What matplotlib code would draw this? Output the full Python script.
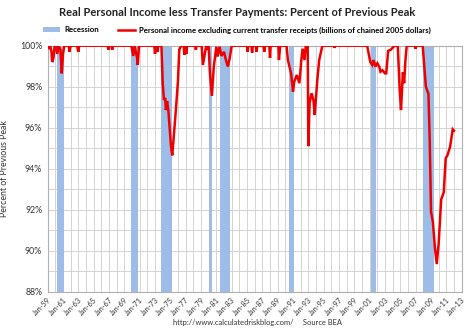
import matplotlib
matplotlib.use("Agg")
import matplotlib.pyplot as plt
import matplotlib.dates as mdates
import pandas as pd
from matplotlib.patches import Patch
from matplotlib.lines import Line2D
from matplotlib.ticker import MultipleLocator, FuncFormatter

plt.rcParams['font.family'] = ['Lato', 'DejaVu Sans']

# ── Series: real personal income less transfers, % of previous peak ──────────
months = [
    '1959-01', '1959-03', '1959-05', '1959-07', '1959-08', '1959-10', '1959-12',
    '1960-02', '1960-04', '1960-06', '1960-09', '1960-11', '1961-01', '1961-03',
    '1961-10', '1961-11', '1962-01', '1962-11', '1963-01', '1963-02',
    '1966-11', '1966-12', '1967-01', '1967-05', '1967-06', '1967-07',
    '1969-12', '1970-03', '1970-05', '1970-09', '1970-10', '1970-12',
    '1972-12', '1973-01', '1973-02', '1973-05', '1973-06', '1973-11',
    '1974-01', '1974-03', '1974-05', '1974-06', '1974-08', '1974-10',
    '1975-02', '1975-04', '1975-06', '1975-10', '1976-01', '1976-03',
    '1976-06', '1976-10', '1976-11', '1977-01', '1977-02', '1977-03',
    '1978-04', '1978-05', '1978-06', '1979-02', '1979-04', '1979-07',
    '1979-09', '1979-11', '1980-01', '1980-03', '1980-06', '1980-09',
    '1981-01', '1981-03', '1981-06', '1981-09', '1982-01', '1982-04',
    '1982-07', '1982-10', '1983-01',
    '1985-01', '1985-02', '1985-03', '1985-08', '1985-09', '1985-10',
    '1986-03', '1986-04', '1986-05', '1987-03', '1987-04', '1987-05',
    '1987-12', '1988-01', '1988-02', '1989-02', '1989-03', '1989-05',
    '1990-03', '1990-05', '1990-10', '1991-01', '1991-03', '1991-07',
    '1991-11', '1992-02', '1992-04', '1992-07', '1992-09', '1992-12',
    '1993-01', '1993-03', '1993-06', '1993-09', '1993-11', '1994-03',
    '1994-06', '1994-11',
    '1996-05', '1996-06', '1996-07',
    '2000-09', '2001-02', '2001-05', '2001-07', '2001-10', '2002-01',
    '2002-04', '2002-06', '2002-09', '2003-01', '2003-03', '2003-06',
    '2003-10', '2004-01', '2004-04', '2004-09', '2004-12', '2005-02',
    '2005-05', '2005-07', '2005-09', '2005-11',
    '2006-12', '2007-01', '2007-02', '2007-12', '2008-05', '2008-09',
    '2008-11', '2009-01', '2009-04', '2009-07', '2009-10', '2010-01',
    '2010-05', '2010-09', '2010-12', '2011-03', '2011-07', '2011-11',
    '2012-01',
]
pct_of_peak = [
    100.0, 99.9, 100.0, 99.7, 99.2, 99.4, 100.0,
    100.0, 99.6, 100.0, 99.8, 98.65, 99.6, 100.0,
    100.0, 99.7, 100.0, 100.0, 99.7, 100.0,
    100.0, 99.8, 100.0, 100.0, 99.8, 100.0,
    100.0, 99.5, 100.0, 99.4, 99.06, 100.0,
    100.0, 99.6, 100.0, 99.7, 100.0, 100.0,
    98.2, 97.35, 97.45, 96.86, 97.3, 96.8,
    95.1, 94.65, 95.4, 97.0, 98.3, 99.8,
    100.0, 100.0, 99.55, 100.0, 99.6, 100.0,
    100.0, 99.8, 100.0, 100.0, 99.06, 99.6,
    100.0, 99.8, 100.0, 98.65, 97.55, 98.98,
    99.95, 99.47, 99.95, 99.5, 99.7, 99.3,
    98.98, 99.4, 100.0,
    100.0, 99.7, 100.0, 100.0, 99.65, 100.0,
    100.0, 99.7, 100.0, 100.0, 99.7, 100.0,
    100.0, 99.4, 100.0, 100.0, 99.3, 100.0,
    100.0, 99.3, 98.65, 97.76, 98.25, 98.57,
    98.17, 99.3, 99.85, 99.3, 100.0, 100.0,
    95.1, 97.2, 97.68, 97.35, 96.62, 98.3,
    99.3, 100.0,
    100.0, 99.9, 100.0,
    100.0, 99.2, 99.06, 99.3, 98.98, 99.14,
    98.98, 98.73, 98.8, 98.65, 98.65, 99.75,
    99.8, 99.9, 100.0, 100.0, 97.84, 96.86,
    98.7, 98.17, 99.3, 100.0,
    100.0, 99.85, 100.0, 100.0, 98.0, 97.65,
    95.4, 91.9, 91.4, 90.2, 89.35, 90.36,
    92.5, 92.85, 94.5, 94.67, 95.08, 95.92,
    95.85,
]

# NBER recessions (start, end month)
rec_start = ['1960-04', '1969-12', '1973-11', '1980-01', '1981-07',
             '1990-07', '2001-03', '2007-12']
rec_end = ['1961-02', '1970-11', '1975-03', '1980-07', '1982-11',
           '1991-03', '2001-11', '2009-06']

# labelled ticks every other January, grid every January
tick_years = list(range(1959, 2014, 2))
grid_years = list(range(1959, 2014))

dates = pd.to_datetime(months)
RED = '#ee0000'
BLUE = '#9dbde8'

fig = plt.figure(figsize=(4.74, 3.33), dpi=100)
ax = fig.add_axes([0.1006, 0.124, 0.8734, 0.7388])

for s, e in zip(pd.to_datetime(rec_start), pd.to_datetime(rec_end)):
    ax.axvspan(s, e, color=BLUE, lw=0, zorder=1)

ax.plot(dates, pct_of_peak, color=RED, lw=1.8, zorder=3,
        solid_joinstyle='miter')

ax.set_xlim(pd.Timestamp('1959-01-01'), pd.Timestamp('2013-01-01'))
ax.set_ylim(88, 100)

ax.set_xticks([pd.Timestamp(f'{y}-01-01') for y in tick_years])
ax.set_xticks([pd.Timestamp(f'{y}-01-01') for y in grid_years], minor=True)
ax.xaxis.set_major_formatter(mdates.DateFormatter('%b-%y'))
ax.yaxis.set_major_locator(MultipleLocator(2))
ax.yaxis.set_minor_locator(MultipleLocator(1))
ax.yaxis.set_major_formatter(FuncFormatter(lambda v, p: f'{v:.0f}%'))

ax.grid(True, which='both', color='#d4d4d4', lw=0.7, zorder=0)
ax.set_axisbelow(True)
for sp in ax.spines.values():
    sp.set_color('#b0b0b0')
    sp.set_linewidth(0.8)

ax.tick_params(axis='x', which='both', length=0, labelsize=5.3, pad=3,
               colors='#333333')
ax.tick_params(axis='y', which='both', length=0, labelsize=6.3, pad=4,
               colors='#333333')
plt.setp(ax.get_xticklabels(), rotation=45, ha='right',
         rotation_mode='anchor')

ax.set_ylabel('Percent of Previous Peak', fontsize=6.3, color='#333333',
              labelpad=8)

fig.text(0.5, 0.962, 'Real Personal Income less Transfer Payments: Percent of Previous Peak',
         ha='center', va='center', fontsize=8, fontweight='bold', color='#222222')

handles = [Patch(facecolor=BLUE, edgecolor='none'),
           Line2D([0], [0], color=RED, lw=1.8)]
labels = ['Recession',
          'Personal income excluding current transfer receipts (billions of chained 2005 dollars)']
ax.legend(handles, labels, loc='center', bbox_to_anchor=(0.5, 0.91),
          bbox_transform=fig.transFigure, ncol=2, frameon=False,
          prop={'weight': 'bold', 'size': 5.6},
          handlelength=2.2, handleheight=0.6, columnspacing=2.5,
          handletextpad=0.5)

fig.text(0.543, 0.033, 'http://www.calculatedriskblog.com/     Source BEA',
         ha='center', va='center', fontsize=5.4, color='#333333')

fig.savefig('out.png', dpi=100)
